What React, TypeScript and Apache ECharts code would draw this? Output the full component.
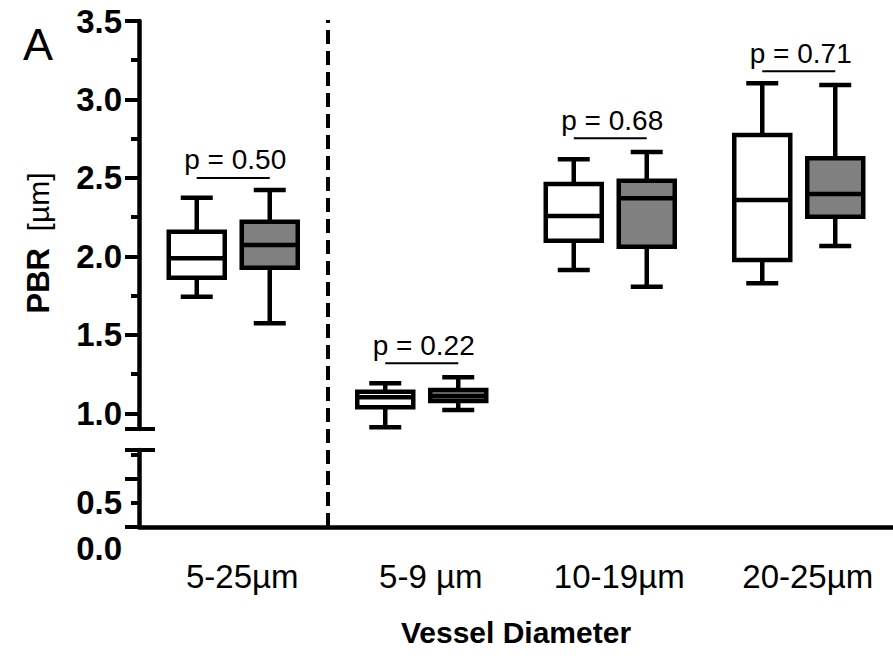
import React, { useEffect, useRef } from "react";
import * as echarts from "echarts";

// ---- data ----
const categories = ["5-25µm", "5-9 µm", "10-19µm", "20-25µm"];
// open boxes
const whiteMin = [1.743, 0.911, 1.913, 1.829];
const whiteQ1 = [1.864, 1.038, 2.1, 1.977];
const whiteMedian = [1.988, 1.102, 2.257, 2.359];
const whiteQ3 = [2.157, 1.138, 2.461, 2.774];
const whiteMax = [2.374, 1.191, 2.619, 3.103];
// filled (gray) boxes
const grayMin = [1.574, 1.021, 1.807, 2.066];
const grayQ1 = [1.928, 1.078, 2.062, 2.253];
const grayMedian = [2.073, 1.11, 2.37, 2.398];
const grayQ3 = [2.221, 1.149, 2.482, 2.625];
const grayMax = [2.423, 1.229, 2.665, 3.092];
// p-value annotations
const pLabels = ["p = 0.50", "p = 0.22", "p = 0.68", "p = 0.71"];
const pLevels = [2.5, 1.319, 2.753, 3.18];
// separator between the pooled group and the sub-groups (category boundary)
const separatorAt = [0.5];
// axis ticks
const upperMajorTicks = [1.0, 1.5, 2.0, 2.5, 3.0, 3.5];
const upperMinorTicks = [1.25, 1.75, 2.25, 2.75, 3.25];
const lowerLabelTicks = [0, 0.5];
const lowerMajorTicks = [0, 1.0];
const lowerMinorTicks = [0.5, 1.5];

// ---- layout / style constants ----
const FONT = "Liberation Sans, Arial, Helvetica, sans-serif";
const LW = 4.5;
const AXIS_X = 139;
const UPPER_MIN = 0.9;
const UPPER_MAX = 3.5;
const LOWER_MIN = 0;
const LOWER_MAX = 1.6;
const OFF_FRAC = 0.1936; // box centre offset in band units
const BOX_HALF = 28;
const CAP_HALF = 16;

function boxSeries(
  name: string,
  mins: number[],
  q1s: number[],
  meds: number[],
  q3s: number[],
  maxs: number[],
  side: number,
  fill: string
) {
  return {
    type: "custom",
    name,
    xAxisIndex: 0,
    yAxisIndex: 0,
    clip: false,
    z: 5,
    data: categories.map((_, i) => [i, mins[i], q1s[i], meds[i], q3s[i], maxs[i]]),
    encode: { x: 0, y: [1, 2, 3, 4, 5] },
    renderItem: (_params: any, api: any) => {
      const i = api.value(0);
      const band = api.size([1, 0])[0];
      const cx = api.coord([i, UPPER_MAX])[0] + side * band * OFF_FRAC;
      const y = (v: number) => api.coord([i, v])[1];
      const yMin = y(api.value(1));
      const yQ1 = y(api.value(2));
      const yMed = y(api.value(3));
      const yQ3 = y(api.value(4));
      const yMax = y(api.value(5));
      const ls = { stroke: "#000", lineWidth: LW };
      return {
        type: "group",
        children: [
          { type: "line", shape: { x1: cx, y1: yMax, x2: cx, y2: yQ3 }, style: ls },
          { type: "line", shape: { x1: cx, y1: yQ1, x2: cx, y2: yMin }, style: ls },
          { type: "line", shape: { x1: cx - CAP_HALF, y1: yMax, x2: cx + CAP_HALF, y2: yMax }, style: ls },
          { type: "line", shape: { x1: cx - CAP_HALF, y1: yMin, x2: cx + CAP_HALF, y2: yMin }, style: ls },
          {
            type: "rect",
            shape: { x: cx - BOX_HALF, y: yQ3, width: BOX_HALF * 2, height: yQ1 - yQ3 },
            style: { fill, stroke: "#000", lineWidth: LW },
          },
          { type: "line", shape: { x1: cx - BOX_HALF, y1: yMed, x2: cx + BOX_HALF, y2: yMed }, style: ls },
        ],
      };
    },
  };
}

function yAxisBase(gridIndex: number, min: number, max: number) {
  return {
    gridIndex,
    type: "value",
    position: "left",
    offset: 0,
    min,
    max,
    splitLine: { show: false },
  };
}

export default function App() {
  const ref = useRef<HTMLDivElement>(null);

  useEffect(() => {
    document.body.style.margin = "0";
    if (!ref.current) return;
    const chart = echarts.init(ref.current, null, { renderer: "svg" });

    const tickLine = { color: "#000", width: 4 };
    const axisLine = { show: true, onZero: false, lineStyle: { color: "#000", width: LW } };
    const noLine = { show: false, onZero: false };

    const option: any = {
      animation: false,
      backgroundColor: "#fff",
      textStyle: { fontFamily: FONT },
      grid: [
        { left: AXIS_X, right: 0, top: 21, bottom: 235, containLabel: false },
        { left: AXIS_X, right: 0, top: 450, bottom: 137, containLabel: false },
        { left: AXIS_X, right: 0, top: 20, bottom: 137, containLabel: false },
      ],
      xAxis: [
        { gridIndex: 0, type: "value", min: -0.5, max: 3.5, show: false },
        { gridIndex: 1, type: "value", min: -0.5, max: 3.5, show: false },
        {
          gridIndex: 2,
          type: "category",
          position: "bottom",
          data: categories,
          boundaryGap: true,
          axisLine: { show: true, onZero: false, lineStyle: { color: "#000", width: LW } },
          axisTick: { show: false },
          axisLabel: {
            color: "#000",
            fontSize: 33,
            fontFamily: FONT,
            margin: 33,
            padding: [0, 0, 0, 18],
          },
          splitLine: { show: false },
          name: "Vessel Diameter",
          nameLocation: "middle",
          nameGap: 90,
          nameTextStyle: { color: "#000", fontSize: 30, fontWeight: "bold", fontFamily: FONT },
        },
        { gridIndex: 2, type: "value", position: "top", min: -0.5, max: 3.5, show: false },
      ],
      yAxis: [
        // 0: upper segment: line, major ticks, labels
        {
          ...yAxisBase(0, UPPER_MIN, UPPER_MAX),
          axisLine,
          axisTick: { show: true, customValues: [UPPER_MIN, ...upperMajorTicks], length: 14, lineStyle: tickLine },
          axisLabel: {
            show: true,
            customValues: upperMajorTicks,
            formatter: (v: number) => v.toFixed(1),
            color: "#000",
            fontSize: 33,
            fontWeight: "bold",
            fontFamily: FONT,
            margin: 17,
          },
        },
        // 1: upper segment: minor ticks
        {
          ...yAxisBase(0, UPPER_MIN, UPPER_MAX),
          axisLine: noLine,
          axisLabel: { show: false },
          axisTick: { show: true, customValues: upperMinorTicks, length: 8, lineStyle: tickLine },
        },
        // 2: upper segment: break mark (inside)
        {
          ...yAxisBase(0, UPPER_MIN, UPPER_MAX),
          axisLine: noLine,
          axisLabel: { show: false },
          axisTick: { show: true, inside: true, customValues: [UPPER_MIN], length: 16, lineStyle: tickLine },
        },
        // 3: lower segment: line, major ticks, labels
        {
          ...yAxisBase(1, LOWER_MIN, LOWER_MAX),
          axisLine,
          axisTick: { show: true, customValues: [...lowerMajorTicks, LOWER_MAX], length: 14, lineStyle: tickLine },
          axisLabel: {
            show: true,
            customValues: lowerLabelTicks,
            formatter: (v: number) => (v === 0 ? "{z|0.0}" : v.toFixed(1)),
            color: "#000",
            fontSize: 33,
            fontWeight: "bold",
            fontFamily: FONT,
            margin: 17,
            rich: {
              z: {
                color: "#000",
                fontSize: 33,
                fontWeight: "bold",
                fontFamily: FONT,
                padding: [42, 0, 0, 0],
              },
            },
          },
        },
        // 4: lower segment: minor ticks
        {
          ...yAxisBase(1, LOWER_MIN, LOWER_MAX),
          axisLine: noLine,
          axisLabel: { show: false },
          axisTick: { show: true, customValues: lowerMinorTicks, length: 8, lineStyle: tickLine },
        },
        // 5: lower segment: break mark (inside)
        {
          ...yAxisBase(1, LOWER_MIN, LOWER_MAX),
          axisLine: noLine,
          axisLabel: { show: false },
          axisTick: { show: true, inside: true, customValues: [LOWER_MAX], length: 16, lineStyle: tickLine },
        },
        // 6: frame grid (hidden)
        { gridIndex: 2, type: "value", min: 0, max: 1, show: false },
      ],
      graphic: [
        {
          type: "text",
          x: 38,
          y: 44,
          style: { text: "A", fill: "#000", font: `45px ${FONT}`, align: "center", verticalAlign: "middle" },
        },
        {
          type: "text",
          x: 38,
          y: 243,
          rotation: Math.PI / 2,
          style: {
            text: "{b|PBR}{n|  [µm]}",
            align: "center",
            verticalAlign: "middle",
            rich: {
              b: { fontSize: 31, fontWeight: "bold", fontFamily: FONT, fill: "#000" },
              n: { fontSize: 30, fontFamily: FONT, fill: "#000" },
            },
          },
        },
      ],
      series: [
        {
          type: "line",
          name: "separator",
          xAxisIndex: 3,
          yAxisIndex: 6,
          data: [],
          silent: true,
          markLine: {
            silent: true,
            symbol: "none",
            label: { show: false },
            lineStyle: { color: "#000", width: 4, type: [14, 7] },
            data: separatorAt.map((v) => ({ xAxis: v })),
          },
        },
        boxSeries("open", whiteMin, whiteQ1, whiteMedian, whiteQ3, whiteMax, -1, "#ffffff"),
        boxSeries("filled", grayMin, grayQ1, grayMedian, grayQ3, grayMax, 1, "#808080"),
        {
          type: "custom",
          name: "p",
          xAxisIndex: 0,
          yAxisIndex: 0,
          clip: false,
          z: 6,
          data: categories.map((_, i) => [i, pLevels[i]]),
          encode: { x: 0, y: 1 },
          renderItem: (params: any, api: any) => {
            const i = api.value(0);
            const band = api.size([1, 0])[0];
            const [cx, cy] = api.coord([i, api.value(1)]);
            const off = band * OFF_FRAC;
            return {
              type: "group",
              children: [
                {
                  type: "line",
                  shape: { x1: cx - off, y1: cy, x2: cx + off, y2: cy },
                  style: { stroke: "#000", lineWidth: 2 },
                },
                {
                  type: "text",
                  x: cx + 2,
                  y: cy - 18,
                  style: {
                    text: pLabels[params.dataIndex],
                    fill: "#000",
                    fontSize: 28,
                    fontFamily: FONT,
                    align: "center",
                    verticalAlign: "middle",
                  },
                },
              ],
            };
          },
        },
      ],
    };

    chart.setOption(option);
    return () => chart.dispose();
  }, []);

  return <div ref={ref} style={{ width: 893, height: 664 }} />;
}
